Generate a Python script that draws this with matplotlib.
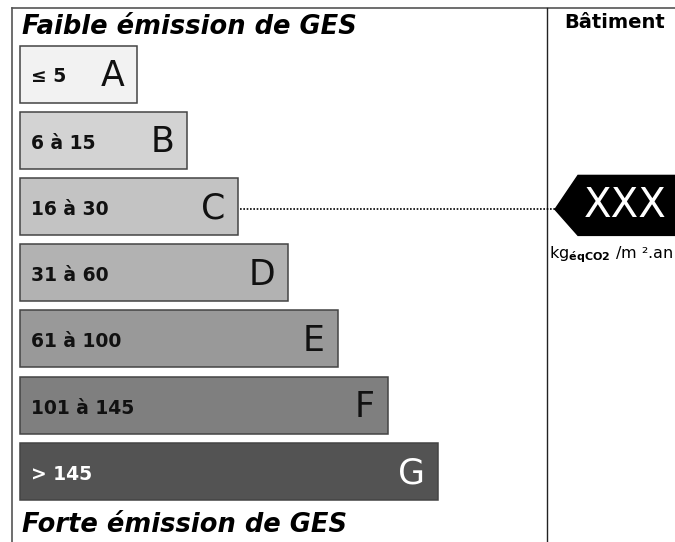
import matplotlib.pyplot as plt
from matplotlib.patches import Polygon

# GES classes
classes = ["A", "B", "C", "D", "E", "F", "G"]
ranges = ["≤ 5", "6 à 15", "16 à 30", "31 à 60", "61 à 100", "101 à 145", "> 145"]
bar_len = [117, 167, 218, 268, 318, 368, 418]
colors = ["#f2f2f2", "#d3d3d3", "#c3c3c3", "#b2b2b2", "#999999", "#7f7f7f", "#535353"]
building_class = "C"
building_value = "XXX"

fig = plt.figure(figsize=(6.75, 5.42), dpi=100)
ax = fig.add_axes([0, 0, 1, 1])
ax.set_xlim(0, 675)
ax.set_ylim(542, 0)
ax.axis("off")

y = [74 + 66.2 * i for i in range(len(classes))]
ax.barh(y, bar_len, left=20, height=57, color=colors, edgecolor="#444444", linewidth=1.1)

for yi, L, r, c, col in zip(y, bar_len, ranges, classes, colors):
    tc = "white" if c == "G" else "#111111"
    ax.text(31, yi + 3, r, fontsize=13.5, fontweight="bold", color=tc, va="center", ha="left")
    ax.text(20 + L - 13, yi + 2, c, fontsize=25, color=tc, va="center", ha="right")

# frame
ax.plot([12, 675], [8, 8], color="#555555", lw=1.2)
ax.plot([12, 12], [8, 542], color="#555555", lw=1.2)
ax.plot([547, 547], [8, 542], color="#222222", lw=1.0)

ax.text(22, 27, "Faible émission de GES", fontsize=18.5, fontweight="bold", style="italic", va="center")
ax.text(22, 525, "Forte émission de GES", fontsize=18.5, fontweight="bold", style="italic", va="center")
ax.text(615, 22, "Bâtiment", fontsize=14, fontweight="bold", ha="center", va="center")

# arrow for building value
i = classes.index(building_class)
yc = y[i] + 3
ax.plot([20 + bar_len[i] + 2, 555], [yc, yc], color="black", lw=1.2, linestyle=(0, (1, 1)))
ax.add_patch(Polygon([[555, yc], [578, yc - 34], [676, yc - 34], [676, yc + 26], [578, yc + 26]],
                     closed=True, color="black"))
ax.text(625, yc - 3, building_value, fontsize=29, color="white", ha="center", va="center")
ax.text(549, 255, r"kg$_{\mathbf{\acute{e}qCO2}}$ /m ².an", fontsize=11.5, ha="left", va="center")

fig.savefig("out.png", dpi=100)
